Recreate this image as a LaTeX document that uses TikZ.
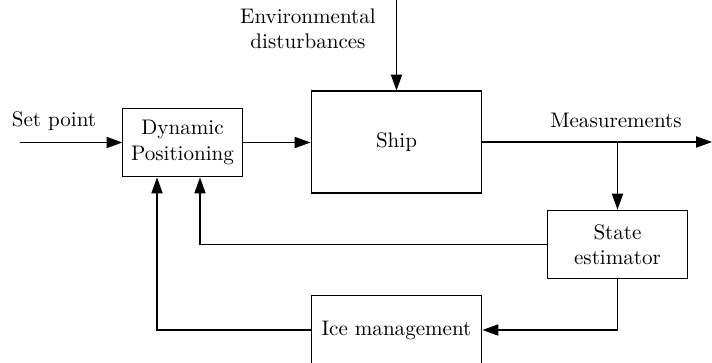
\documentclass[tikz,border=0pt]{standalone}
\usetikzlibrary{arrows.meta}
\begin{document}
\begin{tikzpicture}[x=0.4745pt, y=-0.4745pt,
  block/.style={draw, line width=0.5pt, inner sep=0pt, align=center},
  arr/.style={line width=0.5pt, -{Triangle[length=7.5pt, width=5.3pt]}},
  lbl/.style={inner sep=0pt, align=center}]
  \useasboundingbox (0,0) rectangle (712,362);
  \clip (0,0) rectangle (712,362);

  % blocks
  \node[block, minimum width=56.5pt, minimum height=32.7pt] (dp) at (182.5,142.5) {Dynamic\\Positioning};
  \node[block, minimum width=81.1pt, minimum height=48.4pt] (ship) at (396.5,142) {Ship};
  \node[block, minimum width=66pt, minimum height=32.7pt] (se) at (617.5,244.5) {State\\estimator};
  \node[block, minimum width=81.1pt, minimum height=32.7pt] (ice) at (396.5,330) {Ice management};

  % labels
  \node[lbl] (envl) at (308,29) {Environmental\\disturbances};
  \node[lbl] (spl) at (54,121) {Set point};
  \node[lbl] (measl) at (616,120) {Measurements};

  % free ends
  \coordinate (sp) at (20,142.5);
  \coordinate (env) at (396.5,0);
  \coordinate (out) at (712,142);
  \coordinate (br) at (617.5,142);

  % connectors
  \draw[arr] (sp) -- (dp.west);
  \draw[arr] (dp.east) -- (dp.east -| ship.west);
  \draw[arr] (env) -- (ship.north);
  \draw[arr] (ship.east) -- (out);
  \draw[arr] (br) -- (se.north);
  \draw[arr] (se.west) -| ([xshift=8.3pt]dp.south);
  \draw[arr] (se.south) |- (ice.east);
  \draw[arr] (ice.west) -| ([xshift=-12.1pt]dp.south);
\end{tikzpicture}
\end{document}
